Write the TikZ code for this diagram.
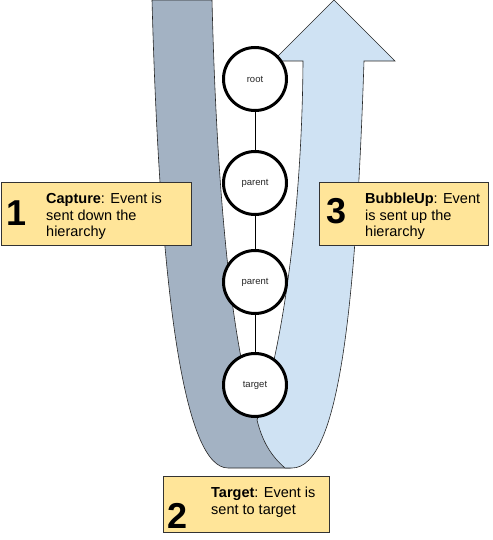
\documentclass[tikz,border=0pt]{standalone}
\usepackage{fontspec}
\setsansfont{Liberation Sans}
\definecolor{capgrey}{HTML}{A3B2C3}
\definecolor{bubblue}{HTML}{CFE2F3}
\definecolor{noteyellow}{HTML}{FFE599}

\begin{document}
\begin{tikzpicture}[x=1pt, y=-1pt, font=\sffamily,
  band/.style={draw=black!85, line width=0.6pt},
  elem/.style={circle, draw, fill=white, line width=3pt, minimum size=63pt, inner sep=0pt,
               font=\sffamily\fontsize{9.5}{11}\selectfont, text=black!85},
  note/.style={draw=black!80, fill=noteyellow, line width=1pt, anchor=north west, inner sep=0pt},
  num/.style={anchor=base west, inner sep=0pt, font=\sffamily\bfseries\fontsize{36}{36}\selectfont},
  notetext/.style={anchor=north west, inner sep=0pt, align=left,
                   font=\sffamily\fontsize{14.5}{16.8}\selectfont}]
\useasboundingbox (0,0) rectangle (492,540);
\draw[band, fill=capgrey] (152,0) -- (212,0)
      .. controls (218,250) and (240,380) .. (258,420) -- (290,468) -- (228,468)
      .. controls (185,468) and (160,300) .. (152,0) -- cycle;
\draw[band, fill=bubblue] (334,0) -- (395,61) -- (364,61)
      .. controls (356,300) and (340,468) .. (292,468) -- (285,468)
      .. controls (270,455) and (262,440) .. (257,420)
      .. controls (280,360) and (302,220) .. (303,61) -- (273,61) -- cycle;
\node[elem] (root) at (255,79) {root};
\node[elem] (parent1) at (255,183) {parent};
\node[elem] (parent2) at (255,282) {parent};
\node[elem] (target) at (255,385) {target};
\draw (root) -- (parent1)
      (parent1) -- (parent2)
      (parent2) -- (target);
\node[note, minimum width=190pt, minimum height=63pt] (capture) at (1,182) {};
\node[num] (capnum) at (6,225) {1};
\node[notetext] (captext) at (46,192.5) {\textbf{Capture}: Event is\\sent down the\\hierarchy};
\node[note, minimum width=169pt, minimum height=63pt] (bubble) at (319,182) {};
\node[num] (bubnum) at (326,223) {3};
\node[notetext] (bubtext) at (365,192.5) {\textbf{BubbleUp}: Event\\is sent up the\\hierarchy};
\node[note, minimum width=166pt, minimum height=56pt] (targetnote) at (163,476) {};
\node[num] (tarnum) at (167,528) {2};
\node[notetext] (tartext) at (211,486.5) {\textbf{Target}: Event is\\sent to target};
\end{tikzpicture}
\end{document}
